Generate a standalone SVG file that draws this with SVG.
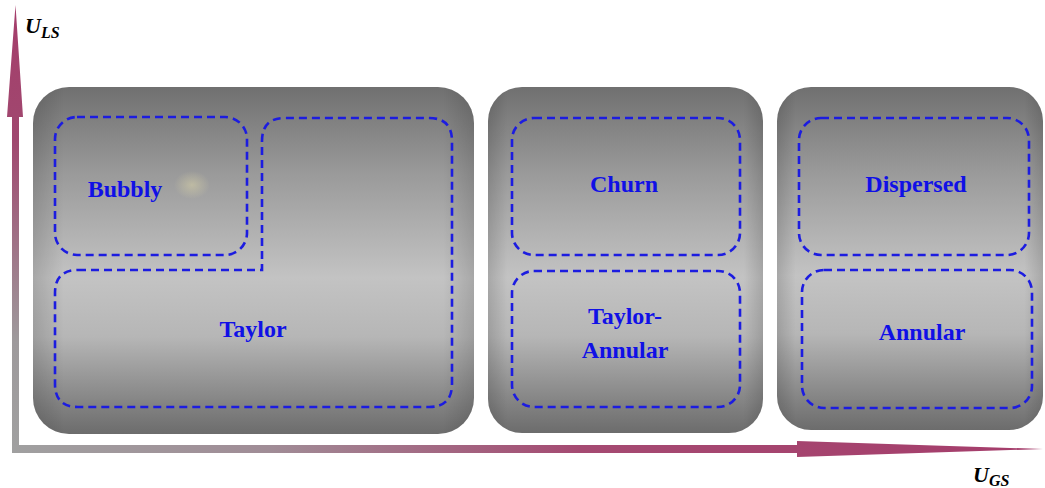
<svg xmlns="http://www.w3.org/2000/svg" width="1045" height="488" viewBox="0 0 1045 488">
<defs>
<linearGradient id="boxV" x1="0" y1="0" x2="0" y2="1">
<stop offset="0" stop-color="#707070"/>
<stop offset="0.25" stop-color="#9a9a9a"/>
<stop offset="0.55" stop-color="#c3c3c3"/>
<stop offset="0.72" stop-color="#b6b6b6"/>
<stop offset="1" stop-color="#6c6c6c"/>
</linearGradient>
<linearGradient id="boxH" x1="0" y1="0" x2="1" y2="0">
<stop offset="0" stop-color="#000" stop-opacity="0.14"/>
<stop offset="0.07" stop-color="#000" stop-opacity="0"/>
<stop offset="0.93" stop-color="#000" stop-opacity="0"/>
<stop offset="1" stop-color="#000" stop-opacity="0.14"/>
</linearGradient>
<linearGradient id="axV" x1="0" y1="0" x2="0" y2="1">
<stop offset="0" stop-color="#a53d6b"/>
<stop offset="0.3" stop-color="#a0486f"/>
<stop offset="0.75" stop-color="#9e9a9c"/>
<stop offset="1" stop-color="#a0a0a0"/>
</linearGradient>
<linearGradient id="axH" gradientUnits="userSpaceOnUse" x1="12" y1="0" x2="1043" y2="0">
<stop offset="0" stop-color="#a0a0a0"/>
<stop offset="0.25" stop-color="#a08c96"/>
<stop offset="0.55" stop-color="#a54a72"/>
<stop offset="1" stop-color="#a53d6b"/>
</linearGradient>
<radialGradient id="glow">
<stop offset="0" stop-color="#ddd6a8" stop-opacity="0.5"/>
<stop offset="1" stop-color="#ddd6a8" stop-opacity="0"/>
</radialGradient>
</defs>
<style>
.box{fill:url(#boxV)}
.edge{fill:url(#boxH)}
.region{fill:none;stroke:#1c1ce0;stroke-width:2.6;stroke-dasharray:8 5}
.lbl{font-weight:bold;font-size:24px;fill:#1010e6;text-anchor:middle}
.ax{font-weight:bold;font-style:italic;fill:#000}
</style>

<g id="axes">
<polygon points="12,453 12,117 7,117 15.5,5 23,117 19,117 19,453" fill="url(#axV)"/>
<polygon points="12,445 797,445 797,441 1043,449 797,457 797,453 12,453" fill="url(#axH)"/>
<text class="ax" font-family="'Liberation Serif', serif" x="25" y="33" font-size="22">U<tspan font-size="16" dy="5">LS</tspan></text>
<text class="ax" font-family="'Liberation Serif', serif" x="973" y="482" font-size="22">U<tspan font-size="16" dy="4">GS</tspan></text>
</g>

<g id="box1">
<rect class="box" x="33" y="87" width="441" height="347" rx="36"/>
<rect class="edge" x="33" y="87" width="441" height="347" rx="36"/>
<ellipse cx="192" cy="185" rx="18" ry="14" fill="url(#glow)"/>
</g>
<g id="box2">
<rect class="box" x="488" y="87" width="275" height="346" rx="34"/>
<rect class="edge" x="488" y="87" width="275" height="346" rx="34"/>
</g>
<g id="box3">
<rect class="box" x="777" y="87" width="266" height="343" rx="34"/>
<rect class="edge" x="777" y="87" width="266" height="343" rx="34"/>
</g>

<g id="bubbly">
<rect class="region" x="55" y="117" width="192" height="138" rx="22"/>
<text class="lbl" font-family="'Liberation Serif', serif" x="125" y="197">Bubbly</text>
</g>
<g id="taylor">
<path class="region" d="M78,270 H262 V141 Q262,118 285,118 H429 Q452,118 452,141 V384 Q452,407 429,407 H78 Q55,407 55,384 V293 Q55,270 78,270 Z"/>
<text class="lbl" font-family="'Liberation Serif', serif" x="253" y="337">Taylor</text>
</g>
<g id="churn">
<rect class="region" x="512" y="118" width="228" height="137" rx="22"/>
<text class="lbl" font-family="'Liberation Serif', serif" x="624" y="192">Churn</text>
</g>
<g id="taylor-annular">
<rect class="region" x="512" y="271" width="228" height="136" rx="22"/>
<text class="lbl" font-family="'Liberation Serif', serif" x="625" y="324">Taylor-</text>
<text class="lbl" font-family="'Liberation Serif', serif" x="625" y="358">Annular</text>
</g>
<g id="dispersed">
<rect class="region" x="799" y="118" width="230" height="137" rx="22"/>
<text class="lbl" font-family="'Liberation Serif', serif" x="916" y="192">Dispersed</text>
</g>
<g id="annular">
<rect class="region" x="802" y="270" width="230" height="138" rx="22"/>
<text class="lbl" font-family="'Liberation Serif', serif" x="922" y="340">Annular</text>
</g>
</svg>
